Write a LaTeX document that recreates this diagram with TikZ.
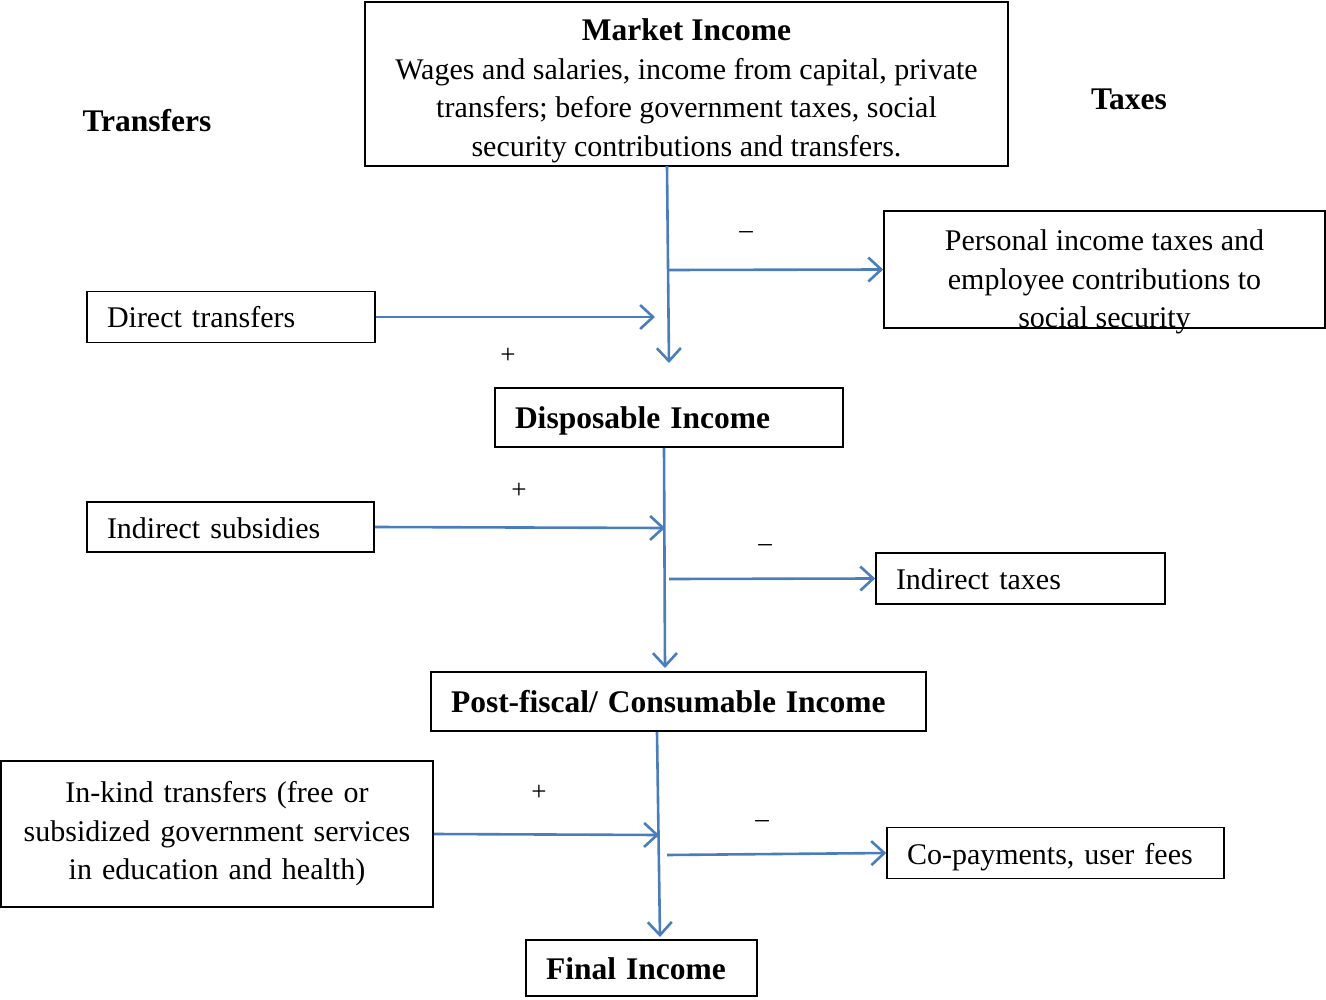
\documentclass[tikz,border=0pt]{standalone}
\usepackage{fontspec}
\setmainfont{Liberation Serif}
\usetikzlibrary{arrows.meta}
\definecolor{arrblue}{RGB}{74,126,187}
\newcommand{\bigbf}[1]{{\fontsize{31.5}{38.5}\selectfont\bfseries #1}}
\tikzset{
  boxnode/.style={draw=black, line width=1.6pt, inner ysep=0pt, inner xsep=20pt, minimum height=#1, font=\fontsize{30}{38.5}\selectfont},
  onebox/.style={boxnode=#1, text height=22pt, text depth=0pt, align=left},
  arr/.style={draw=arrblue, line width=2.6pt, -{Straight Barb[length=13pt,width=24pt]}},
  sign/.style={font=\fontsize{27}{30}\selectfont, inner sep=0pt},
  headtxt/.style={font=\fontsize{31.5}{34}\selectfont\bfseries, inner sep=0pt}
}
\begin{document}
\begin{tikzpicture}[x=1pt,y=-1pt]
\useasboundingbox (0,0) rectangle (1326,1000);
% boxes
\node[draw=black, line width=1.6pt, minimum width=643pt, minimum height=164pt, inner sep=0pt] (market) at (686.5,84) {};
\node[font=\fontsize{30}{38.5}\selectfont, align=center, inner sep=0pt] (markettext) at (686.5,91)
  {\bigbf{Market Income}\\Wages and salaries, income from capital, private\\transfers; before government taxes, social\\security contributions and transfers.};
\node[draw=black, line width=1.6pt, minimum width=441pt, minimum height=117pt, inner sep=0pt] (pit) at (1104.5,269.5) {};
\node[font=\fontsize{30}{38.5}\selectfont, align=center, inner sep=0pt] (pittext) at (1104.5,282)
  {Personal income taxes and\\employee contributions to\\social security};
\node[onebox=51pt, text width=248pt] (direct) at (231,317) {Direct transfers};
\node[onebox=59pt, text width=308pt] (disp) at (669,417.5) {\bigbf{Disposable Income}};
\node[onebox=50pt, text width=247pt] (indsub) at (230.5,527) {Indirect subsidies};
\node[onebox=51pt, text width=249pt] (indtax) at (1020.5,578.5) {Indirect taxes};
\node[onebox=59pt, text width=455pt] (post) at (678.5,701.5) {\bigbf{Post-fiscal/ Consumable Income}};
\node[boxnode=146pt, text width=392pt, align=center] (inkind) at (217,834)
  {In-kind transfers (free or\\subsidized government services\\in education and health)};
\node[onebox=51pt, text width=297pt] (copay) at (1055.5,853) {Co-payments, user fees};
\node[onebox=56pt, text width=191pt] (final) at (641.5,968) {\bigbf{Final Income}};
% headings
\node[headtxt] (transfers) at (147,121) {Transfers};
\node[headtxt] (taxes) at (1129,99) {Taxes};
% signs
\node[sign] (s1) at (746,235) {–};
\node[sign] (s2) at (508,356) {+};
\node[sign] (s3) at (519,491) {+};
\node[sign] (s4) at (765,548) {–};
\node[sign] (s5) at (539,793) {+};
\node[sign] (s6) at (762,824) {–};
% coordinates
\coordinate (m1) at (667,166);
\coordinate (m2) at (669,363);
\coordinate (j1) at (669,270);
\coordinate (t1) at (655,317);
\coordinate (d1) at (664,448);
\coordinate (d2) at (665,668);
\coordinate (t2) at (665,528);
\coordinate (j2) at (669,579);
\coordinate (p1) at (657,732);
\coordinate (p2) at (660,937);
\coordinate (t3) at (659,835);
\coordinate (j3) at (667,855);
% arrows
\draw[arr] (m1) -- (m2);
\draw[arr] (j1) -- (pit.west);
\draw[arr] (direct.east) -- (t1);
\draw[arr] (d1) -- (d2);
\draw[arr] (indsub.east) -- (t2);
\draw[arr] (j2) -- (indtax.west);
\draw[arr] (p1) -- (p2);
\draw[arr] (inkind.east) -- (t3);
\draw[arr] (j3) -- (copay.west);
\end{tikzpicture}
\end{document}
